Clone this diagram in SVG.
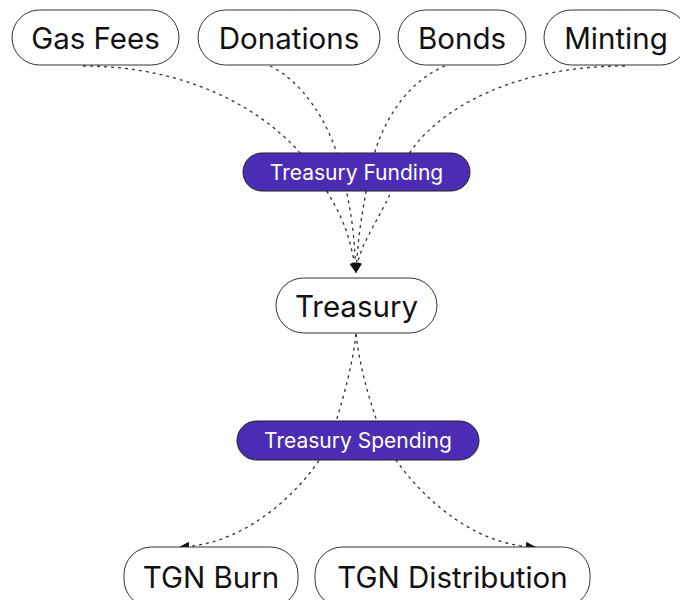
<svg xmlns="http://www.w3.org/2000/svg" width="680" height="600" viewBox="0 0 680 600">
<style>
.node rect{fill:#fff;stroke:#333;stroke-width:1}
.node text{font-family:Inter,"Noto Sans",sans-serif;font-size:29.5px;fill:#111;text-anchor:middle;dominant-baseline:central}
.label rect{fill:#4a2db4;stroke:#222;stroke-width:1}
.label text{font-family:Inter,"Noto Sans",sans-serif;font-size:21px;fill:#fff;text-anchor:middle;dominant-baseline:central}
.edge{fill:none;stroke:#333;stroke-width:1.3;stroke-dasharray:3 4}
</style>
<defs>
<marker id="arr" viewBox="0 0 10 10" refX="9" refY="5" markerWidth="10" markerHeight="10" markerUnits="userSpaceOnUse" orient="auto">
<path d="M0,0 L10,5 L0,10 Z" fill="#111"/>
</marker>
</defs>
<rect width="680" height="600" fill="#fff"/>
<g id="connectors">
<path class="edge" d="M83,66 C200,66 280,120 314,171 S350,240 356,272" marker-end="url(#arr)"/>
<path class="edge" d="M270,66 C300,80 330,120 342,171 S354,240 356,272" marker-end="url(#arr)"/>
<path class="edge" d="M445,66 C410,80 380,120 370,171 S358,240 356,272" marker-end="url(#arr)"/>
<path class="edge" d="M625,66 C500,66 420,120 400,171 S360,240 356,272" marker-end="url(#arr)"/>
<path class="edge" d="M356,334 C352,370 340,410 330,440 C322,465 260,545 180,547" marker-end="url(#arr)"/>
<path class="edge" d="M356,334 C360,370 372,410 384,440 C395,465 455,545 535,547" marker-end="url(#arr)"/>
</g>
<g id="gas-fees" class="node"><rect x="12" y="10" width="167" height="55" rx="27.5"/><text x="95.5" y="38">Gas Fees</text></g>
<g id="donations" class="node"><rect x="198" y="10" width="182" height="55" rx="27.5"/><text x="289" y="38">Donations</text></g>
<g id="bonds" class="node"><rect x="398" y="10" width="128" height="55" rx="27.5"/><text x="462" y="38">Bonds</text></g>
<g id="minting" class="node"><rect x="544" y="10" width="144" height="55" rx="27.5"/><text x="616" y="38">Minting</text></g>
<g id="treasury-funding" class="label"><rect x="243" y="153" width="227" height="38" rx="19"/><text x="356.5" y="172">Treasury Funding</text></g>
<g id="treasury" class="node"><rect x="276" y="278" width="161" height="55" rx="27.5"/><text x="356.5" y="306">Treasury</text></g>
<g id="treasury-spending" class="label"><rect x="237" y="421" width="242" height="39" rx="19.5"/><text x="358" y="440.5">Treasury Spending</text></g>
<g id="tgn-burn" class="node"><rect x="124" y="547" width="174" height="60" rx="27.5"/><text x="211" y="577">TGN Burn</text></g>
<g id="tgn-distribution" class="node"><rect x="315" y="547" width="275" height="60" rx="27.5"/><text x="452.5" y="577">TGN Distribution</text></g>
</svg>
